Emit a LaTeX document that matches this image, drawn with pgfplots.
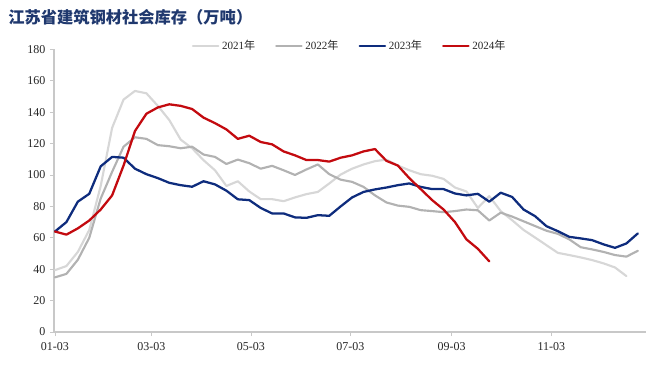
\documentclass[border=0pt]{standalone}
\usepackage{fontspec}
\setmainfont{Liberation Serif}
\newfontfamily\cjk{Noto Sans CJK SC}
\usepackage{pgfplots}
\pgfplotsset{compat=1.18}
\definecolor{c21}{RGB}{215,215,215}
\definecolor{c22}{RGB}{178,178,178}
\definecolor{c23}{RGB}{14,44,125}
\definecolor{c24}{RGB}{195,10,15}
\definecolor{titlec}{RGB}{31,56,110}
\definecolor{axc}{RGB}{200,200,200}
\begin{document}
\begin{tikzpicture}
\begin{axis}[
  at={(0,0)}, anchor=south west,
  scale only axis, width=444pt, height=212pt,
  xmin=-0.6, xmax=362, ymin=0, ymax=180,
  xtick={0,59,120,181,243,304},
  xticklabels={01-03,03-03,05-03,07-03,09-03,11-03},
  ytick={0,20,...,180},
  axis x line*=bottom, axis y line*=left,
  axis line style={draw=axc, line width=0.8pt},
  tick style={draw=axc, line width=0.6pt},
  tick align=outside,
  major tick length=3pt,
  /pgf/number format/assume math mode=true,
  y tick label style={font=\fontsize{9}{10}\selectfont, text=black!85},
  x tick label style={font=\fontsize{9}{10}\selectfont, text=black!85, yshift=-1.5pt},
  legend style={at={(0.5,1.012)}, anchor=center, draw=none, fill=none,
    legend columns=4, font=\fontsize{8.3}{10}\selectfont, text=black!85,
    /tikz/every even column/.append style={column sep=13pt}},
  legend image code/.code={\draw[#1] (0pt,0pt) -- (19pt,0pt);},
  every axis plot/.append style={line join=round, line cap=round},
]
\addplot[c21, line width=1.6pt] coordinates {(0,39.4)(7,42)(14,51)(21,65)(28,93)(35,130)(42,148)(49,153.5)(56,152)(63,144)(70,135)(77,122.5)(84,117)(91,109.4)(98,103)(105,93)(112,96)(119,89.5)(126,84.6)(133,84.6)(140,83.3)(147,85.7)(154,87.8)(161,89.2)(168,94.6)(175,100.3)(182,104)(189,106.7)(196,108.8)(203,109.8)(210,106)(217,103)(224,100.5)(231,99.5)(238,97.5)(245,92)(252,89.5)(259,79)(266,86.5)(273,77)(280,71.2)(287,65)(294,60.2)(301,55.3)(308,50.4)(315,49)(322,47.5)(329,45.8)(336,43.7)(343,41.1)(350,35.6)};
\addlegendentry{2021{\cjk 年}}
\addplot[c22, line width=1.6pt] coordinates {(0,34.8)(7,37)(14,46)(21,60)(28,85)(35,102)(42,118)(49,124)(56,123)(63,119)(70,118.3)(77,117)(84,118)(91,113)(98,111.5)(105,107)(112,109.8)(119,107.5)(126,104)(133,105.8)(140,103)(147,100)(154,103.5)(161,106.7)(168,100.5)(175,97)(182,95.6)(189,92.4)(196,87)(203,82.5)(210,80.5)(217,79.7)(224,77.6)(231,77)(238,76.3)(245,77)(252,78)(259,77.5)(266,71)(273,76)(280,73.5)(287,70.5)(294,67.5)(301,64.5)(308,62.5)(315,59)(322,54)(329,52.6)(336,51)(343,49)(350,48)(357,51.7)};
\addlegendentry{2022{\cjk 年}}
\addplot[c23, line width=1.7pt] coordinates {(0,64)(7,70)(14,83)(21,88)(28,105.5)(35,111.5)(42,111)(49,104)(56,100.5)(63,98)(70,95)(77,93.5)(84,92.5)(91,96)(98,94)(105,90)(112,84.5)(119,84)(126,79)(133,75.5)(140,75.5)(147,73)(154,72.7)(161,74.4)(168,74)(175,80)(182,85.7)(189,89.2)(196,90.8)(203,92)(210,93.5)(217,94.6)(224,92.4)(231,91)(238,91)(245,88.2)(252,87)(259,88)(266,83)(273,88.7)(280,86)(287,78)(294,73.8)(301,67.4)(308,64.2)(315,60.6)(322,59.6)(329,58.5)(336,55.8)(343,53.6)(350,56.4)(357,62.8)};
\addlegendentry{2023{\cjk 年}}
\addplot[c24, line width=1.7pt] coordinates {(0,64)(7,62)(14,66)(21,71)(28,78)(35,87)(42,106)(49,128)(56,139)(63,143)(70,145)(77,144)(84,142)(91,136.5)(98,133)(105,129)(112,123)(119,125)(126,121)(133,119.5)(140,115)(147,112.5)(154,109.5)(161,109.5)(168,108.5)(175,111)(182,112.5)(189,115)(196,116.5)(203,109)(210,106)(217,98)(224,91)(231,84)(238,78)(245,70)(252,59)(259,53)(266,45)};
\addlegendentry{2024{\cjk 年}}
\end{axis}
\node[anchor=west, inner sep=0pt, font=\cjk\bfseries\fontsize{12.2}{14}\selectfont, text=titlec] at (-34.5pt,236.25pt) {江苏省建筑钢材社会库存（万吨）};
\pgfresetboundingbox
\path[use as bounding box] (-40.5pt,-27.75pt) rectangle (454.5pt,249pt);
\end{tikzpicture}
\end{document}
